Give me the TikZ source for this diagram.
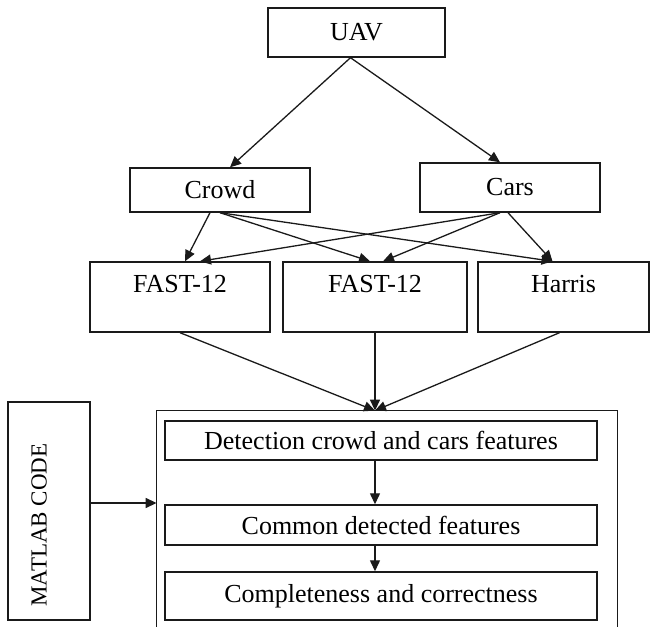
\documentclass[tikz,border=0pt]{standalone}
\usepackage{fontspec}
\setmainfont{Liberation Serif}
\usepackage{tikz}
\usepackage{xcolor}
\usetikzlibrary{
    arrows.meta,
    positioning,
    calc
}
\definecolor{dark}{HTML}{1A1A1A}
\tikzset{
    % Plain block style
    block/.style={
        rectangle,
        draw=dark,
        line width=0.7pt,
        align=center,
        inner sep=2pt,
        font=\fontsize{13}{15}\selectfont,
        text=black
    },
    % Upper-aligned label inside tall block
    tall block/.style={
        block,
        minimum height=35pt,
        text depth=13pt
    },
    % Arrow style
    flow/.style={
        -{Triangle[length=5.5pt, width=5pt]},
        line width=0.65pt,
        color=dark
    }
}
\begin{document}
\begin{tikzpicture}[x=0.5pt, y=-0.5pt]
        \useasboundingbox (0,0) rectangle (650,627);

        % Source
        \node[block, minimum width=88.5pt, minimum height=24.5pt] (uav) at (356.5, 32.5) {UAV};

        % Scene types
        \node[block, minimum width=90pt, minimum height=22pt] (crowd) at (220, 190) {Crowd};
        \node[block, minimum width=90pt, minimum height=24.5pt] (cars) at (510, 187.5) {Cars};

        % Detectors
        \node[tall block, minimum width=90pt] (fastA) at (180, 297) {FAST-12};
        \node[tall block, minimum width=92pt] (fastB) at (375, 297) {FAST-12};
        \node[tall block, minimum width=85.5pt] (harris) at (563.5, 297) {Harris};

        % Processing container (open at the bottom)
        \node[minimum width=230pt, minimum height=108pt, inner sep=0pt] (proc) at (387, 519) {};
        \draw[dark, line width=0.7pt] (proc.south west) |- (proc.north east) -- (proc.south east);

        % Processing steps
        \node[block, minimum width=216pt, minimum height=19.5pt] (detect) at (381, 440.5) {Detection crowd and cars features};
        \node[block, minimum width=216pt, minimum height=20pt] (common) at (381, 525) {Common detected features};
        \node[block, minimum width=216pt, minimum height=24pt] (complete) at (381, 596) {Completeness and correctness};

        % Tool
        \node[block, rotate=90, font=\fontsize{11.5}{13}\selectfont, minimum width=109pt, minimum height=41pt, text depth=10pt] (matlab) at (49, 511) {MATLAB CODE\hspace{14pt}};

        % Connections
        \draw[flow] ([xshift=-3pt]uav.south) -- ([xshift=5pt]crowd.north);
        \draw[flow] ([xshift=-3pt]uav.south) -- ([xshift=-5pt]cars.north);

        \draw[flow] ([xshift=-5pt]crowd.south) -- ([xshift=2.5pt]fastA.north);
        \draw[flow] (crowd.south) -- ([xshift=-2.5pt]fastB.north);
        \draw[flow] (crowd.south) -- ([xshift=-5.5pt]harris.north);

        \draw[flow] ([xshift=-5pt]cars.south) -- ([xshift=10pt]fastA.north);
        \draw[flow] ([xshift=-5pt]cars.south) -- ([xshift=4pt]fastB.north);
        \draw[flow] ([xshift=-1pt]cars.south) -- ([xshift=-5.5pt]harris.north);

        \draw[flow] (fastA.south) -- ([xshift=-6pt]proc.north);
        \draw[flow] (fastB.south) -- ([xshift=-6pt]proc.north);
        \draw[flow] ([xshift=-2pt]harris.south) -- ([xshift=-6pt]proc.north);

        \draw[flow] ([xshift=-3pt]detect.south) -- ([xshift=-3pt]common.north);
        \draw[flow] ([xshift=-3pt]common.south) -- ([xshift=-3pt]complete.north);

        \draw[flow] ([yshift=4pt]matlab.south) -- ([yshift=4pt]matlab.south -| proc.west);

    \end{tikzpicture}
\end{document}
